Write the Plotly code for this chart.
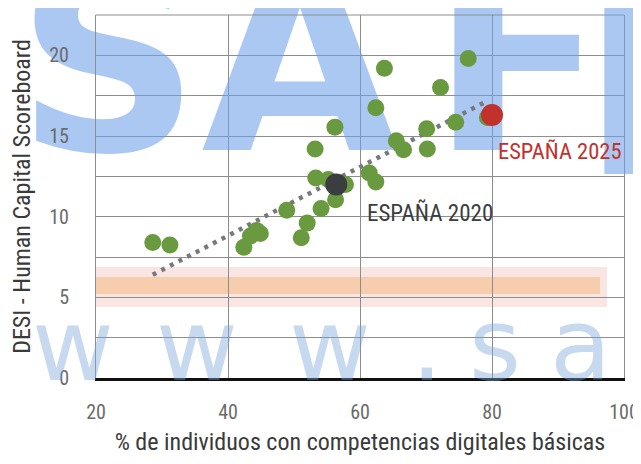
import plotly.graph_objects as go

# ---------------- data ----------------
eu_x = [28.6, 31.2, 42.4, 43.4, 44.3, 44.9, 48.9, 51.1, 52.0, 53.2, 53.3, 54.1,
        55.2, 56.2, 56.3, 57.8, 61.4, 62.4, 62.4, 63.7, 65.5, 66.6, 70.1, 70.2,
        72.2, 74.5, 76.4, 79.3]
eu_y = [8.4, 8.25, 8.1, 8.8, 9.15, 8.95, 10.4, 8.7, 9.6, 14.2, 12.4, 10.5,
        12.3, 15.55, 11.05, 12.0, 12.7, 12.15, 16.75, 19.2, 14.7, 14.15, 15.45, 14.2,
        18.0, 15.85, 19.8, 16.15]

spain2020_x = [56.4]
spain2020_y = [12.0]
spain2025_x = [80.0]
spain2025_y = [16.3]

trend_x = [28.6, 79.4]
trend_y = [6.4, 17.2]

x_ticks = [20, 40, 60, 80, 100]
y_ticks = [0, 5, 10, 15, 20]

label_2020 = "ESPAÑA 2020"
label_2025 = "ESPAÑA 2025"
x_title = "% de individuos con competencias digitales básicas"
y_title = "DESI - Human Capital Scoreboard"

# ---------------- layout geometry ----------------
OFF = 8                      # page body margin around the plot div
W, H = 641 - OFF, 464 - 2 * OFF
ML, MR, MT, MB = 96 - OFF, 17, 15 - OFF, 78
XR = [20, 100]
YR = [0, 22.5]
PW = W - ML - MR
PH = H - MT - MB
PL = ML + OFF                # plot-area left in the viewport
PB = OFF + H - MB            # plot-area bottom in the viewport


def px_x(px):
    return XR[0] + (px - PL) / PW * (XR[1] - XR[0])


def px_y(py):
    return YR[0] + (PB - py) / PH * (YR[1] - YR[0])


def paper_x(px):
    return (px - PL) / PW


def paper_y(py):
    return (PB - py) / PH


FONT = ("Noto Sans Condensed, Noto Sans ExtraCondensed, Roboto Condensed, "
        "Liberation Sans Narrow, Roboto, sans-serif")
GRID = "#8d8d8d"
GREEN = "#6a9a40"
RED = "#c1312e"
DARK = "#3b3e41"
WM_BIG = "rgba(108,160,232,0.58)"
WM_SMALL = "rgba(120,165,218,0.42)"

fig = go.Figure()

# ---------------- background watermark (decorative) ----------------
big_in = ["S", "A", "F"]
big_in_px = [108, 300, 518]
big_base = 175
big_size = 255
fig.add_trace(go.Scatter(
    x=[px_x(p) for p in big_in_px],
    y=[px_y(big_base - 0.35 * big_size)] * len(big_in),
    mode="text", text=big_in, textposition="middle center",
    textfont=dict(family="DejaVu Sans", size=big_size, weight="bold", color=WM_BIG),
    cliponaxis=False, hoverinfo="skip", showlegend=False,
))
fig.add_annotation(xref="paper", yref="paper", x=paper_x(668),
                   y=paper_y(big_base - 0.35 * big_size), text="E", showarrow=False,
                   xanchor="center", yanchor="middle",
                   font=dict(family="DejaVu Sans", size=big_size, weight="bold", color=WM_BIG))

small = ["w", "w", "w", ".", "s", "a"]
small_px = [73, 197, 330, 427, 495, 580]
small_base = 380
small_size = 100
for ch, p in zip(small, small_px):
    fig.add_annotation(xref="paper", yref="paper", x=paper_x(p),
                       y=paper_y(small_base - 0.35 * small_size), text=ch,
                       showarrow=False, xanchor="center", yanchor="middle",
                       font=dict(family="DejaVu Sans", size=small_size, color=WM_SMALL))

# orange band
fig.add_shape(type="rect", xref="x", yref="y", x0=px_x(10), x1=px_x(607),
              y0=px_y(307), y1=px_y(267), layer="below", line_width=0,
              fillcolor="rgba(242,200,190,0.45)")
fig.add_shape(type="rect", xref="x", yref="y", x0=px_x(25), x1=px_x(600),
              y0=px_y(294), y1=px_y(277), layer="below", line_width=0,
              fillcolor="rgba(244,186,130,0.55)")

# ---------------- chart marks ----------------
fig.add_trace(go.Scatter(
    x=trend_x, y=trend_y, mode="lines",
    line=dict(color="#77797c", width=4.5, dash="4px,5.7px"),
    hoverinfo="skip", showlegend=False,
))
fig.add_trace(go.Scatter(
    x=eu_x, y=eu_y, mode="markers",
    marker=dict(color=GREEN, size=17, line_width=0),
    showlegend=False,
))
fig.add_trace(go.Scatter(
    x=spain2020_x, y=spain2020_y, mode="markers",
    marker=dict(color=DARK, size=22, line_width=0), showlegend=False,
))
fig.add_trace(go.Scatter(
    x=spain2025_x, y=spain2025_y, mode="markers",
    marker=dict(color=RED, size=22, line_width=0), showlegend=False,
))

fig.add_annotation(x=spain2020_x[0] + 4.3, y=spain2020_y[0] - 1.8, text=label_2020,
                   showarrow=False, xanchor="left", yanchor="middle",
                   font=dict(family=FONT, size=23, color=DARK))
fig.add_annotation(x=spain2025_x[0] + 0.6, y=spain2025_y[0] - 2.2, text=label_2025,
                   showarrow=False, xanchor="left", yanchor="middle",
                   font=dict(family=FONT, size=22.5, color=RED))

# top frame line
fig.add_shape(type="line", xref="paper", yref="paper", x0=0, x1=1, y0=1, y1=1,
              line=dict(color=GRID, width=1))

fig.update_xaxes(
    range=XR, tickmode="array", tickvals=x_ticks, ticktext=[str(v) for v in x_ticks],
    showgrid=True, gridcolor=GRID, gridwidth=1,
    showline=True, linecolor="#111111", linewidth=3, mirror=False,
    zeroline=False, ticks="", ticklabelstandoff=14, automargin=False,
    ticklabeloverflow="allow",
    tickfont=dict(family=FONT, size=20, color="#6b6b6b"),
    title=dict(text=x_title, standoff=20, font=dict(family=FONT, size=24, color="#3a3a3a")),
)
fig.update_yaxes(
    range=YR, tickmode="array", tickvals=y_ticks, ticktext=[str(v) for v in y_ticks],
    showgrid=True, gridcolor=GRID, gridwidth=1,
    minor=dict(dtick=2.5, showgrid=True, gridcolor=GRID, gridwidth=1),
    showline=True, linecolor=GRID, linewidth=1, mirror=True,
    zeroline=False, ticks="", ticklabelstandoff=22, automargin=False,
    tickfont=dict(family=FONT, size=20, color="#6b6b6b"),
    title=dict(text=y_title, standoff=18, font=dict(family=FONT, size=24, color="#3a3a3a")),
)

fig.update_layout(
    width=W, height=H,
    margin=dict(l=ML, r=MR, t=MT, b=MB, pad=0, autoexpand=False),
    paper_bgcolor="white", plot_bgcolor="rgba(0,0,0,0)",
    showlegend=False,
)

fig.write_html("out.html")
